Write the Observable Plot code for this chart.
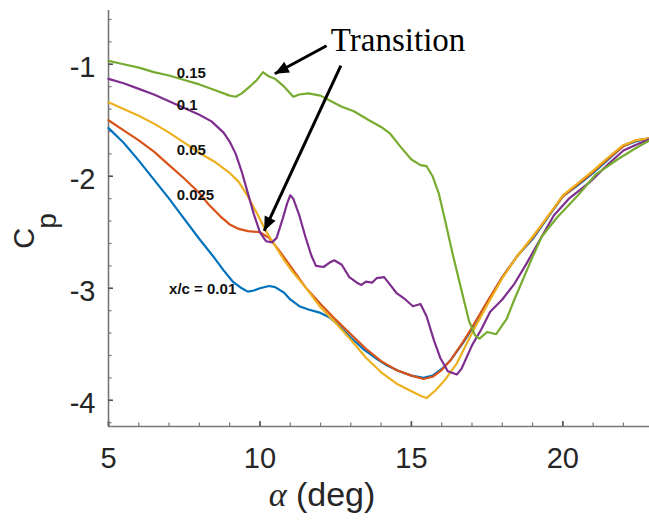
<!DOCTYPE html>
<html>
<head>
<meta charset="utf-8">
<script src="https://cdn.jsdelivr.net/npm/d3@7"></script>
<script src="https://cdn.jsdelivr.net/npm/@observablehq/plot@0.6"></script>
<style>
  html, body { margin: 0; padding: 0; background: #fff; }
  #chart svg { display: block; }
</style>
</head>
<body>
<div id="chart"></div>
<script>
// Surface pressure coefficient vs. angle of attack at five chordwise stations

const stations = ["x/c = 0.01", "0.025", "0.05", "0.1", "0.15"];
const stationColors = ["#0072BD", "#D95319", "#EDB120", "#7E2F8E", "#77AC30"];

const alpha001 = [5.0, 5.5, 6.0, 6.5, 7.0, 7.5, 8.0, 8.5, 8.8, 9.1, 9.4, 9.6, 9.8, 10.0, 10.3, 10.5, 10.8, 11.0, 11.3, 11.6, 12.0, 12.3, 12.6, 13.0, 13.4, 13.8, 14.2, 14.6, 15.0, 15.4, 15.7, 16.0, 16.3, 16.7, 17.0, 17.5, 18.0, 18.5, 19.0, 19.5, 20.0, 20.5, 21.0, 21.5, 22.0, 22.4, 22.86];
const cp001    = [-1.57, -1.70, -1.86, -2.03, -2.20, -2.38, -2.56, -2.73, -2.84, -2.94, -3.00, -3.03, -3.02, -3.00, -2.98, -2.99, -3.04, -3.10, -3.16, -3.19, -3.22, -3.26, -3.33, -3.44, -3.54, -3.62, -3.69, -3.74, -3.78, -3.80, -3.78, -3.72, -3.64, -3.49, -3.36, -3.13, -2.90, -2.71, -2.56, -2.37, -2.18, -2.08, -1.97, -1.85, -1.73, -1.69, -1.66];

const alpha0025 = [5.0, 5.5, 6.0, 6.5, 7.0, 7.5, 8.0, 8.3, 8.7, 9.0, 9.3, 9.6, 10.0, 10.3, 10.6, 11.0, 11.5, 12.0, 12.5, 13.0, 13.5, 14.0, 14.5, 15.0, 15.4, 15.7, 16.0, 16.3, 16.7, 17.0, 17.5, 18.0, 18.5, 19.0, 19.5, 20.0, 20.5, 21.0, 21.5, 22.0, 22.4, 22.86];
const cp0025    = [-1.50, -1.59, -1.68, -1.78, -1.90, -2.02, -2.15, -2.25, -2.36, -2.43, -2.47, -2.49, -2.50, -2.55, -2.65, -2.80, -2.99, -3.14, -3.28, -3.41, -3.54, -3.65, -3.73, -3.78, -3.81, -3.79, -3.73, -3.64, -3.48, -3.35, -3.12, -2.90, -2.71, -2.55, -2.36, -2.18, -2.07, -1.96, -1.84, -1.73, -1.68, -1.66];

const alpha005 = [5.0, 5.5, 6.0, 6.5, 7.0, 7.5, 8.0, 8.5, 9.0, 9.3, 9.6, 9.9, 10.2, 10.5, 10.8, 11.1, 11.5, 12.0, 12.5, 13.0, 13.5, 14.0, 14.5, 15.0, 15.3, 15.5, 15.8, 16.1, 16.5, 17.0, 17.5, 18.0, 18.5, 19.0, 19.5, 20.0, 20.5, 21.0, 21.5, 22.0, 22.4, 22.86];
const cp005    = [-1.34, -1.40, -1.46, -1.53, -1.61, -1.70, -1.79, -1.87, -1.97, -2.05, -2.18, -2.33, -2.49, -2.62, -2.75, -2.86, -2.99, -3.17, -3.31, -3.46, -3.62, -3.75, -3.85, -3.92, -3.96, -3.98, -3.91, -3.82, -3.67, -3.40, -3.15, -2.91, -2.71, -2.54, -2.36, -2.17, -2.06, -1.95, -1.83, -1.72, -1.68, -1.66];

const alpha01 = [5.0, 5.5, 6.0, 6.5, 7.0, 7.5, 8.0, 8.4, 8.8, 9.0, 9.2, 9.4, 9.6, 9.8, 10.0, 10.2, 10.4, 10.55, 10.75, 10.9, 11.0, 11.1, 11.3, 11.5, 11.7, 11.85, 12.1, 12.3, 12.45, 12.7, 12.95, 13.2, 13.35, 13.5, 13.7, 13.85, 14.1, 14.3, 14.5, 14.8, 15.05, 15.3, 15.5, 15.75, 15.95, 16.2, 16.5, 16.65, 17.0, 17.3, 17.6, 18.0, 18.4, 18.8, 19.3, 19.7, 20.2, 20.9, 21.5, 22.0, 22.4, 22.86];
const cp01    = [-1.13, -1.17, -1.22, -1.27, -1.33, -1.39, -1.45, -1.51, -1.61, -1.69, -1.80, -1.96, -2.15, -2.34, -2.50, -2.58, -2.59, -2.55, -2.38, -2.24, -2.17, -2.20, -2.35, -2.54, -2.71, -2.80, -2.81, -2.77, -2.75, -2.79, -2.90, -2.95, -2.97, -2.94, -2.95, -2.91, -2.90, -2.97, -3.04, -3.10, -3.16, -3.14, -3.25, -3.47, -3.62, -3.74, -3.77, -3.72, -3.51, -3.37, -3.21, -3.10, -2.96, -2.78, -2.54, -2.35, -2.20, -2.05, -1.89, -1.77, -1.72, -1.67];

const alpha015 = [5.0, 5.5, 6.0, 6.5, 7.0, 7.5, 8.0, 8.5, 9.0, 9.2, 9.4, 9.7, 9.9, 10.1, 10.3, 10.5, 10.8, 11.1, 11.3, 11.6, 12.0, 12.35, 12.7, 13.1, 13.6, 14.0, 14.3, 14.65, 15.0, 15.3, 15.5, 15.7, 15.9, 16.1, 16.35, 16.6, 16.9, 17.1, 17.25, 17.5, 17.8, 18.15, 18.4, 18.7, 19.0, 19.3, 19.8, 20.5, 21.1, 21.8, 22.4, 22.86];
const cp015    = [-0.97, -1.00, -1.03, -1.07, -1.10, -1.14, -1.18, -1.23, -1.28, -1.29, -1.26, -1.19, -1.14, -1.07, -1.11, -1.13, -1.20, -1.29, -1.27, -1.26, -1.28, -1.33, -1.38, -1.42, -1.50, -1.56, -1.62, -1.74, -1.85, -1.90, -1.91, -2.00, -2.15, -2.38, -2.68, -2.96, -3.29, -3.42, -3.45, -3.39, -3.41, -3.27, -3.10, -2.91, -2.72, -2.54, -2.37, -2.17, -1.98, -1.85, -1.75, -1.68];

const seriesAlpha = [alpha001, alpha0025, alpha005, alpha01, alpha015];
const seriesCp = [cp001, cp0025, cp005, cp01, cp015];

// In-plot station labels (alpha, Cp position of each label)
const labelText  = ["x/c = 0.01", "0.025", "0.05", "0.1", "0.15"];
const labelAlpha = [7.0, 7.25, 7.25, 7.25, 7.25];
const labelCp    = [-3.004, -2.165, -1.768, -1.368, -1.076];

// "Transition" callout and its two arrows
const calloutText = "Transition";
const calloutAlpha = 12.34;
const calloutCp = -0.79;
const arrowFromAlpha = [12.2, 12.67];
const arrowFromCp    = [-0.835, -1.013];
const arrowToAlpha   = [10.49, 10.14];
const arrowToCp      = [-1.085, -2.487];

const xTicks = [5, 10, 15, 20];
const yTicks = [-1, -2, -3, -4];
const xMinorTicks = d3.range(5, 23, 1);
const yMinorTicks = d3.range(-4.2, -0.5, 0.2).map(v => Math.round(v * 10) / 10);

const xDomain = [5, 22.86];
const yDomain = [-4.234, -0.52];

const rows = stations.flatMap((s, i) =>
  seriesAlpha[i].map((a, j) => ({station: s, alpha: a, cp: seriesCp[i][j]}))
);
const labels = labelText.map((t, i) => ({text: t, alpha: labelAlpha[i], cp: labelCp[i]}));
const arrows = arrowFromAlpha.map((a, i) => ({
  x1: a, y1: arrowFromCp[i], x2: arrowToAlpha[i], y2: arrowToCp[i]
}));

const W = 649, H = 527;
const mTop = 10, mBottom = 101, mLeft = 108, mRight = 0;
const frameW = W - mLeft - mRight, frameH = H - mTop - mBottom;
const axisGray = "#777";
const textDark = "#262626";

const chart = Plot.plot({
  width: W,
  height: H,
  marginTop: mTop,
  marginBottom: mBottom,
  marginLeft: mLeft,
  marginRight: mRight,
  style: {fontFamily: "'Liberation Sans', Arial, sans-serif", background: "#fff", overflow: "visible"},
  x: {domain: xDomain},
  y: {domain: yDomain},
  color: {domain: stations, range: stationColors},
  marks: [
    // axis lines
    Plot.ruleX([xDomain[0]], {stroke: axisGray, strokeWidth: 1.6}),
    Plot.ruleY([yDomain[0]], {stroke: axisGray, strokeWidth: 1.6}),
    // inward ticks
    Plot.tickX(xMinorTicks, {x: d => d, stroke: axisGray, strokeWidth: 1.2, insetTop: frameH - 3.5}),
    Plot.tickX(xTicks, {x: d => d, stroke: "#555", strokeWidth: 1.6, insetTop: frameH - 5}),
    Plot.tickY(yMinorTicks, {y: d => d, stroke: axisGray, strokeWidth: 1.2, insetRight: frameW - 3.5}),
    Plot.tickY(yTicks, {y: d => d, stroke: "#555", strokeWidth: 1.6, insetRight: frameW - 5}),
    Plot.axisX({ticks: xTicks, tickSize: 0, tickPadding: 21, fontSize: 29, fill: textDark, label: null, tickFormat: d => String(d)}),
    Plot.axisY({ticks: yTicks, tickSize: 0, tickPadding: 13, dy: 3, fontSize: 29, fill: textDark, label: null, tickFormat: d => String(d)}),
    // Cp curves
    Plot.line(rows, {x: "alpha", y: "cp", z: "station", stroke: "station", strokeWidth: 2.2, strokeLinejoin: "round"}),
    // station labels
    Plot.text(labels, {x: "alpha", y: "cp", text: "text", textAnchor: "start", fontWeight: "bold", fontSize: 15, fill: "#111"}),
    // transition callout
    Plot.link(arrows, {x1: "x1", y1: "y1", x2: "x2", y2: "y2", stroke: "#000", strokeWidth: 3, markerEnd: "arrow"}),
    Plot.text([calloutText], {x: calloutAlpha, y: calloutCp, text: d => d, textAnchor: "start", fontFamily: "'Liberation Serif', 'Times New Roman', serif", fontSize: 33, fill: "#000"})
  ]
});

// solid, filled arrowheads for the callout arrows
chart.querySelectorAll("marker").forEach(m => {
  const c = m.getAttribute("stroke") || "#000";
  m.setAttribute("viewBox", "-8 -5 10 10");
  m.setAttribute("fill", c);
  m.setAttribute("stroke", "none");
  m.setAttribute("overflow", "visible");
  const p = m.querySelector("path");
  if (p) p.setAttribute("d", "M-7,-3L0,0L-7,3Z");
});

// axis titles: α (deg) and C_p
const svg = d3.select(chart);
const xt = svg.append("text")
  .attr("x", 322)
  .attr("y", 506)
  .attr("fill", textDark)
  .attr("font-size", 34)
  .attr("font-family", "'Liberation Sans', Arial, sans-serif");
xt.append("tspan").attr("font-family", "'Liberation Serif', 'Times New Roman', serif").attr("font-style", "italic").text("α");
xt.append("tspan").text(" (deg)");

const yt = svg.append("text")
  .attr("transform", "translate(34,231) rotate(-90)")
  .attr("fill", textDark)
  .attr("font-size", 29)
  .attr("font-family", "'Liberation Sans', Arial, sans-serif");
yt.append("tspan").text("C");
yt.append("tspan").attr("dy", 22).attr("dx", -1).attr("font-size", 28).text("p");

document.getElementById("chart").appendChild(chart);
</script>
</body>
</html>
